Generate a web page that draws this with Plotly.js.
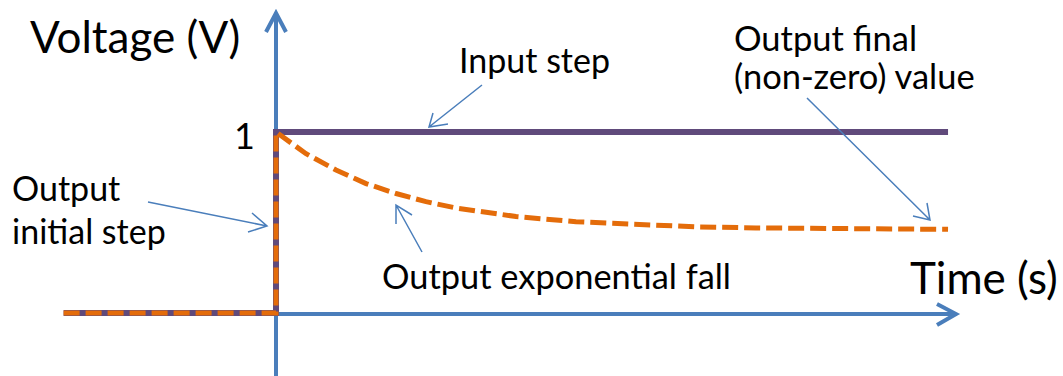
<!DOCTYPE html>
<html>
<head>
<meta charset="utf-8">
<script src="https://cdn.plot.ly/plotly-3.0.1.min.js"></script>
<style>html,body{margin:0;padding:0;background:#fff;}#chart{width:1063px;height:376px;}</style>
</head>
<body>
<div id="chart"></div>
<script>
// Input step (V) vs time (s)
const inputTime = [-1.77, 0, 0, 5.6];
const inputVoltage = [0, 0, 1, 1];
// Output: initial step to 1, then exponential fall to non-zero final value
const outputTime = [-1.77, 0, 0, 0.25, 0.5, 0.75, 1, 1.25, 1.5, 2, 2.5, 3, 3.5, 4, 4.5, 5, 5.6];
const outputVoltage = [0, 0, 1, 0.88, 0.79, 0.715, 0.66, 0.615, 0.58, 0.533, 0.504, 0.487, 0.476, 0.47, 0.466, 0.464, 0.462];
const yTickLabel = '1';

const W = 1063, H = 376;
const X = px => px / W;
const Y = py => 1 - py / H;
const FONT = 'Lato, "Open Sans", sans-serif';
const AXBLUE = '#4A7EBB';

function arrowPath(from, tip, a1, a2) {
  return `M ${X(from[0])} ${Y(from[1])} L ${X(tip[0])} ${Y(tip[1])} M ${X(a1[0])} ${Y(a1[1])} L ${X(tip[0])} ${Y(tip[1])} L ${X(a2[0])} ${Y(a2[1])}`;
}
function shapeArrow(from, tip, a1, a2, width) {
  return {type: 'path', xref: 'paper', yref: 'paper', path: arrowPath(from, tip, a1, a2),
          line: {color: AXBLUE, width: width}, layer: width > 2 ? 'below' : 'above'};
}

const shapes = [
  // y axis
  shapeArrow([276, 376], [276, 13], [266, 32], [286, 32], 4),
  // x axis
  shapeArrow([64, 314], [956, 314], [937, 304], [937, 325], 4),
  // callouts
  shapeArrow([482, 85], [429, 127], [433, 113], [448, 124], 1.5),
  shapeArrow([807, 98], [930, 220], [927, 203], [913, 216], 1.5),
  shapeArrow([148, 202], [267, 226], [252, 213], [248, 232], 1.5),
  shapeArrow([422, 252], [396, 205], [396, 224], [412, 215], 1.5)
];

function txt(text, px, py, size, anchor) {
  return {text: text, xref: 'paper', yref: 'paper', x: X(px), y: Y(py),
          xanchor: anchor || 'left', yanchor: 'middle', showarrow: false, align: 'left',
          font: {family: FONT, size: size, color: '#000'}};
}

const annotations = [
  txt('Voltage (V)', 28, 36, 44),
  txt('Time (s)', 908, 277, 44),
  txt(yTickLabel, 232, 135, 36),
  txt('Input step', 457, 60, 34),
  txt('Output final', 732, 37, 34.5),
  txt('(non-zero) value', 732, 75, 34.5),
  txt('Output', 10, 187, 34),
  txt('initial step', 10, 230, 34),
  txt('Output exponential fall', 380, 275, 34.4)
];

const traces = [
  {x: inputTime, y: inputVoltage, type: 'scatter', mode: 'lines',
   line: {color: '#604A7B', width: 6}, hoverinfo: 'skip'},
  {x: outputTime, y: outputVoltage, type: 'scatter', mode: 'lines',
   line: {color: '#E46C0A', width: 5, dash: '16px,6px'}, hoverinfo: 'skip'}
];

const layout = {
  width: W, height: H,
  margin: {l: 0, r: 0, t: 0, b: 0},
  paper_bgcolor: '#fff', plot_bgcolor: '#fff',
  showlegend: false,
  xaxis: {range: [-2.3, 6.558], visible: false, fixedrange: true},
  yaxis: {range: [-0.348, 1.729], visible: false, fixedrange: true},
  shapes: shapes,
  annotations: annotations
};

Plotly.newPlot('chart', traces, layout, {staticPlot: true, displayModeBar: false});
</script>
</body>
</html>
